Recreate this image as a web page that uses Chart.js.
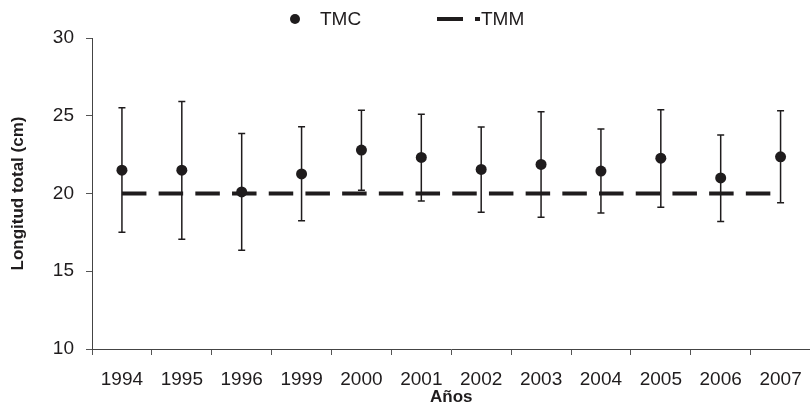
<!DOCTYPE html>
<html>
<head>
<meta charset="utf-8">
<script src="https://cdn.jsdelivr.net/npm/chart.js@4/dist/chart.umd.min.js"></script>
<style>
  html, body { margin: 0; padding: 0; background: #fff; overflow: hidden; }
  #wrap { width: 816px; height: 407px; }
</style>
</head>
<body>
<div id="wrap"><canvas id="c" width="816" height="407"></canvas></div>
<script>
const categories = ['1994', '1995', '1996', '1999', '2000', '2001', '2002', '2003', '2004', '2005', '2006', '2007'];
const tmc   = [21.50, 21.50, 20.10, 21.26, 22.79, 22.32, 21.55, 21.87, 21.44, 22.27, 21.00, 22.36];
const upper = [25.51, 25.92, 23.86, 24.29, 25.36, 25.09, 24.27, 25.25, 24.14, 25.38, 23.77, 25.32];
const lower = [17.51, 17.06, 16.35, 18.24, 20.21, 19.52, 18.80, 18.47, 18.75, 19.12, 18.20, 19.40];
const tmm   = [20, 20, 20, 20, 20, 20, 20, 20, 20, 20, 20, 20];
const yTicks = [10, 15, 20, 25, 30];
const legendLabels = ['TMC', 'TMM'];

const INK = '#1f1c1d';
const FONT = "'Liberation Sans', Arial, sans-serif";

const errorBars = {
  id: 'errorBars',
  beforeDatasetsDraw(chart) {
    const { ctx, scales: { x, y } } = chart;
    ctx.save();
    ctx.strokeStyle = INK;
    ctx.lineWidth = 1.5;
    const cap = 3.5;
    for (let i = 0; i < categories.length; i++) {
      const px = x.getPixelForValue(i);
      const yu = y.getPixelForValue(upper[i]);
      const yl = y.getPixelForValue(lower[i]);
      ctx.beginPath();
      ctx.moveTo(px, yu); ctx.lineTo(px, yl);
      ctx.moveTo(px - cap, yu); ctx.lineTo(px + cap, yu);
      ctx.moveTo(px - cap, yl); ctx.lineTo(px + cap, yl);
      ctx.stroke();
    }
    ctx.restore();
  }
};

const customLegend = {
  id: 'customLegend',
  afterDraw(chart) {
    const { ctx } = chart;
    ctx.save();
    const yc = 19;
    ctx.fillStyle = INK;
    ctx.beginPath();
    ctx.arc(295, yc, 5, 0, Math.PI * 2);
    ctx.fill();
    ctx.font = '19px ' + FONT;
    ctx.textBaseline = 'middle';
    ctx.textAlign = 'left';
    ctx.fillText(legendLabels[0], 320, yc + 1);
    ctx.strokeStyle = INK;
    ctx.lineWidth = 4;
    ctx.beginPath();
    ctx.moveTo(437, yc); ctx.lineTo(463, yc);
    ctx.moveTo(475, yc); ctx.lineTo(480, yc);
    ctx.stroke();
    ctx.fillText(legendLabels[1], 481, yc + 1);
    ctx.restore();
  }
};

new Chart(document.getElementById('c'), {
  type: 'line',
  data: {
    labels: categories,
    datasets: [
      {
        label: legendLabels[1],
        data: tmm,
        borderColor: INK,
        borderWidth: 4,
        borderDash: [24.5, 12.2],
        borderCapStyle: 'butt',
        pointRadius: 0,
        fill: false,
        order: 2
      },
      {
        label: legendLabels[0],
        data: tmc,
        showLine: false,
        pointRadius: 5.5,
        pointBackgroundColor: INK,
        pointBorderColor: INK,
        pointBorderWidth: 0,
        order: 1
      }
    ]
  },
  options: {
    responsive: false,
    animation: false,
    events: [],
    layout: { padding: { top: 38, left: 0, right: 0, bottom: 0 } },
    plugins: { legend: { display: false }, tooltip: { enabled: false } },
    scales: {
      x: {
        type: 'category',
        offset: true,
        afterFit(s) { s.height = 58; },
        grid: { offset: true, drawOnChartArea: false, drawTicks: true, tickLength: 6, color: '#555', lineWidth: 1 },
        border: { display: true, color: '#444', width: 1 },
        ticks: { color: INK, font: { family: FONT, size: 19 }, padding: 13, maxRotation: 0, autoSkip: false },
        title: { display: true, text: 'Años', color: INK, font: { family: FONT, size: 17, weight: 'bold', lineHeight: 1.1 }, padding: { top: 0, bottom: 0 } }
      },
      y: {
        min: 10,
        max: 30,
        afterFit(s) { s.width = 92; },
        afterBuildTicks(s) { s.ticks = yTicks.map(v => ({ value: v })); },
        grid: { drawOnChartArea: false, drawTicks: true, tickLength: 6, color: '#555', lineWidth: 1 },
        border: { display: true, color: '#444', width: 1 },
        ticks: { color: INK, font: { family: FONT, size: 19 }, padding: 12 },
        title: { display: true, text: 'Longitud total (cm)', color: INK, font: { family: FONT, size: 17, weight: 'bold', lineHeight: 1.2 }, padding: { top: 8, bottom: 0 } }
      }
    }
  },
  plugins: [errorBars, customLegend]
});
</script>
</body>
</html>
